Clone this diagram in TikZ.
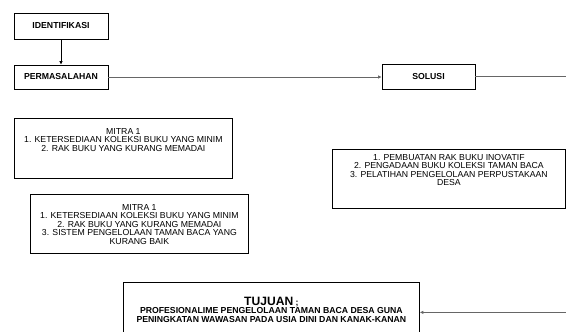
\documentclass[tikz,border=0pt]{standalone}
\usepackage{fontspec}
\setmainfont{Liberation Sans}
\usetikzlibrary{arrows.meta}
\tikzset{
  box/.style={draw=black, line width=0.8pt, inner sep=0pt, align=center},
  lbl/.style={box, font=\bfseries\fontsize{8.7}{8.5}\selectfont},
  conn/.style={draw=black!60, line width=0.8pt},
  tip/.style={-{Latex[length=3.5pt,width=3.5pt]}}
}
\newcommand{\tbox}[4]{\begin{minipage}[t][#2pt][t]{#1pt}\centering\vspace*{#3pt}\fontsize{8.7}{8.5}\selectfont #4\end{minipage}}
\begin{document}
\begin{tikzpicture}[x=1pt,y=-1pt]
\useasboundingbox (0,0) rectangle (566,332);
\node[lbl, minimum width=94pt, minimum height=26pt] (iden) at (61,26) {IDENTIFIKASI};
\node[lbl, minimum width=94pt, minimum height=24pt] (perm) at (61,77) {PERMASALAHAN};
\node[lbl, minimum width=93pt, minimum height=25pt] (sol) at (428.5,76.5) {SOLUSI};
\node[box, anchor=north west] (m1) at (14,118) {\tbox{218}{60}{10}{MITRA 1\\1. KETERSEDIAAN KOLEKSI BUKU YANG MINIM\\2. RAK BUKU YANG KURANG MEMADAI}};
\node[box, anchor=north west] (m2) at (30,194) {\tbox{218}{59}{10}{MITRA 1\\1. KETERSEDIAAN KOLEKSI BUKU YANG MINIM\\2. RAK BUKU YANG KURANG MEMADAI\\3. SISTEM PENGELOLAAN TAMAN BACA YANG\\KURANG BAIK}};
\node[box, anchor=north west] (solbox) at (332,149) {\tbox{233}{59}{5}{\fontsize{8.7}{8.35}\selectfont 1. PEMBUATAN RAK BUKU INOVATIF\\2. PENGADAAN BUKU KOLEKSI TAMAN BACA\\3. PELATIHAN PENGELOLAAN PERPUSTAKAAN\\DESA}};
\node[box, anchor=north west] (tujuan) at (123,282) {\tbox{296}{60}{14.5}{\bfseries{\fontsize{12.1}{8.5}\selectfont TUJUAN} ;\\PROFESIONALIME PENGELOLAAN TAMAN BACA DESA GUNA\\PENINGKATAN WAWASAN PADA USIA DINI DAN KANAK-KANAN}};
\draw[line width=0.8pt, tip] (iden) -- (perm);
\draw[conn, tip] (perm.east) -- (perm.east -| sol.west);
\draw[conn, tip] (sol.east) -- ++(95,0) |- (tujuan.east);
\end{tikzpicture}
\end{document}
